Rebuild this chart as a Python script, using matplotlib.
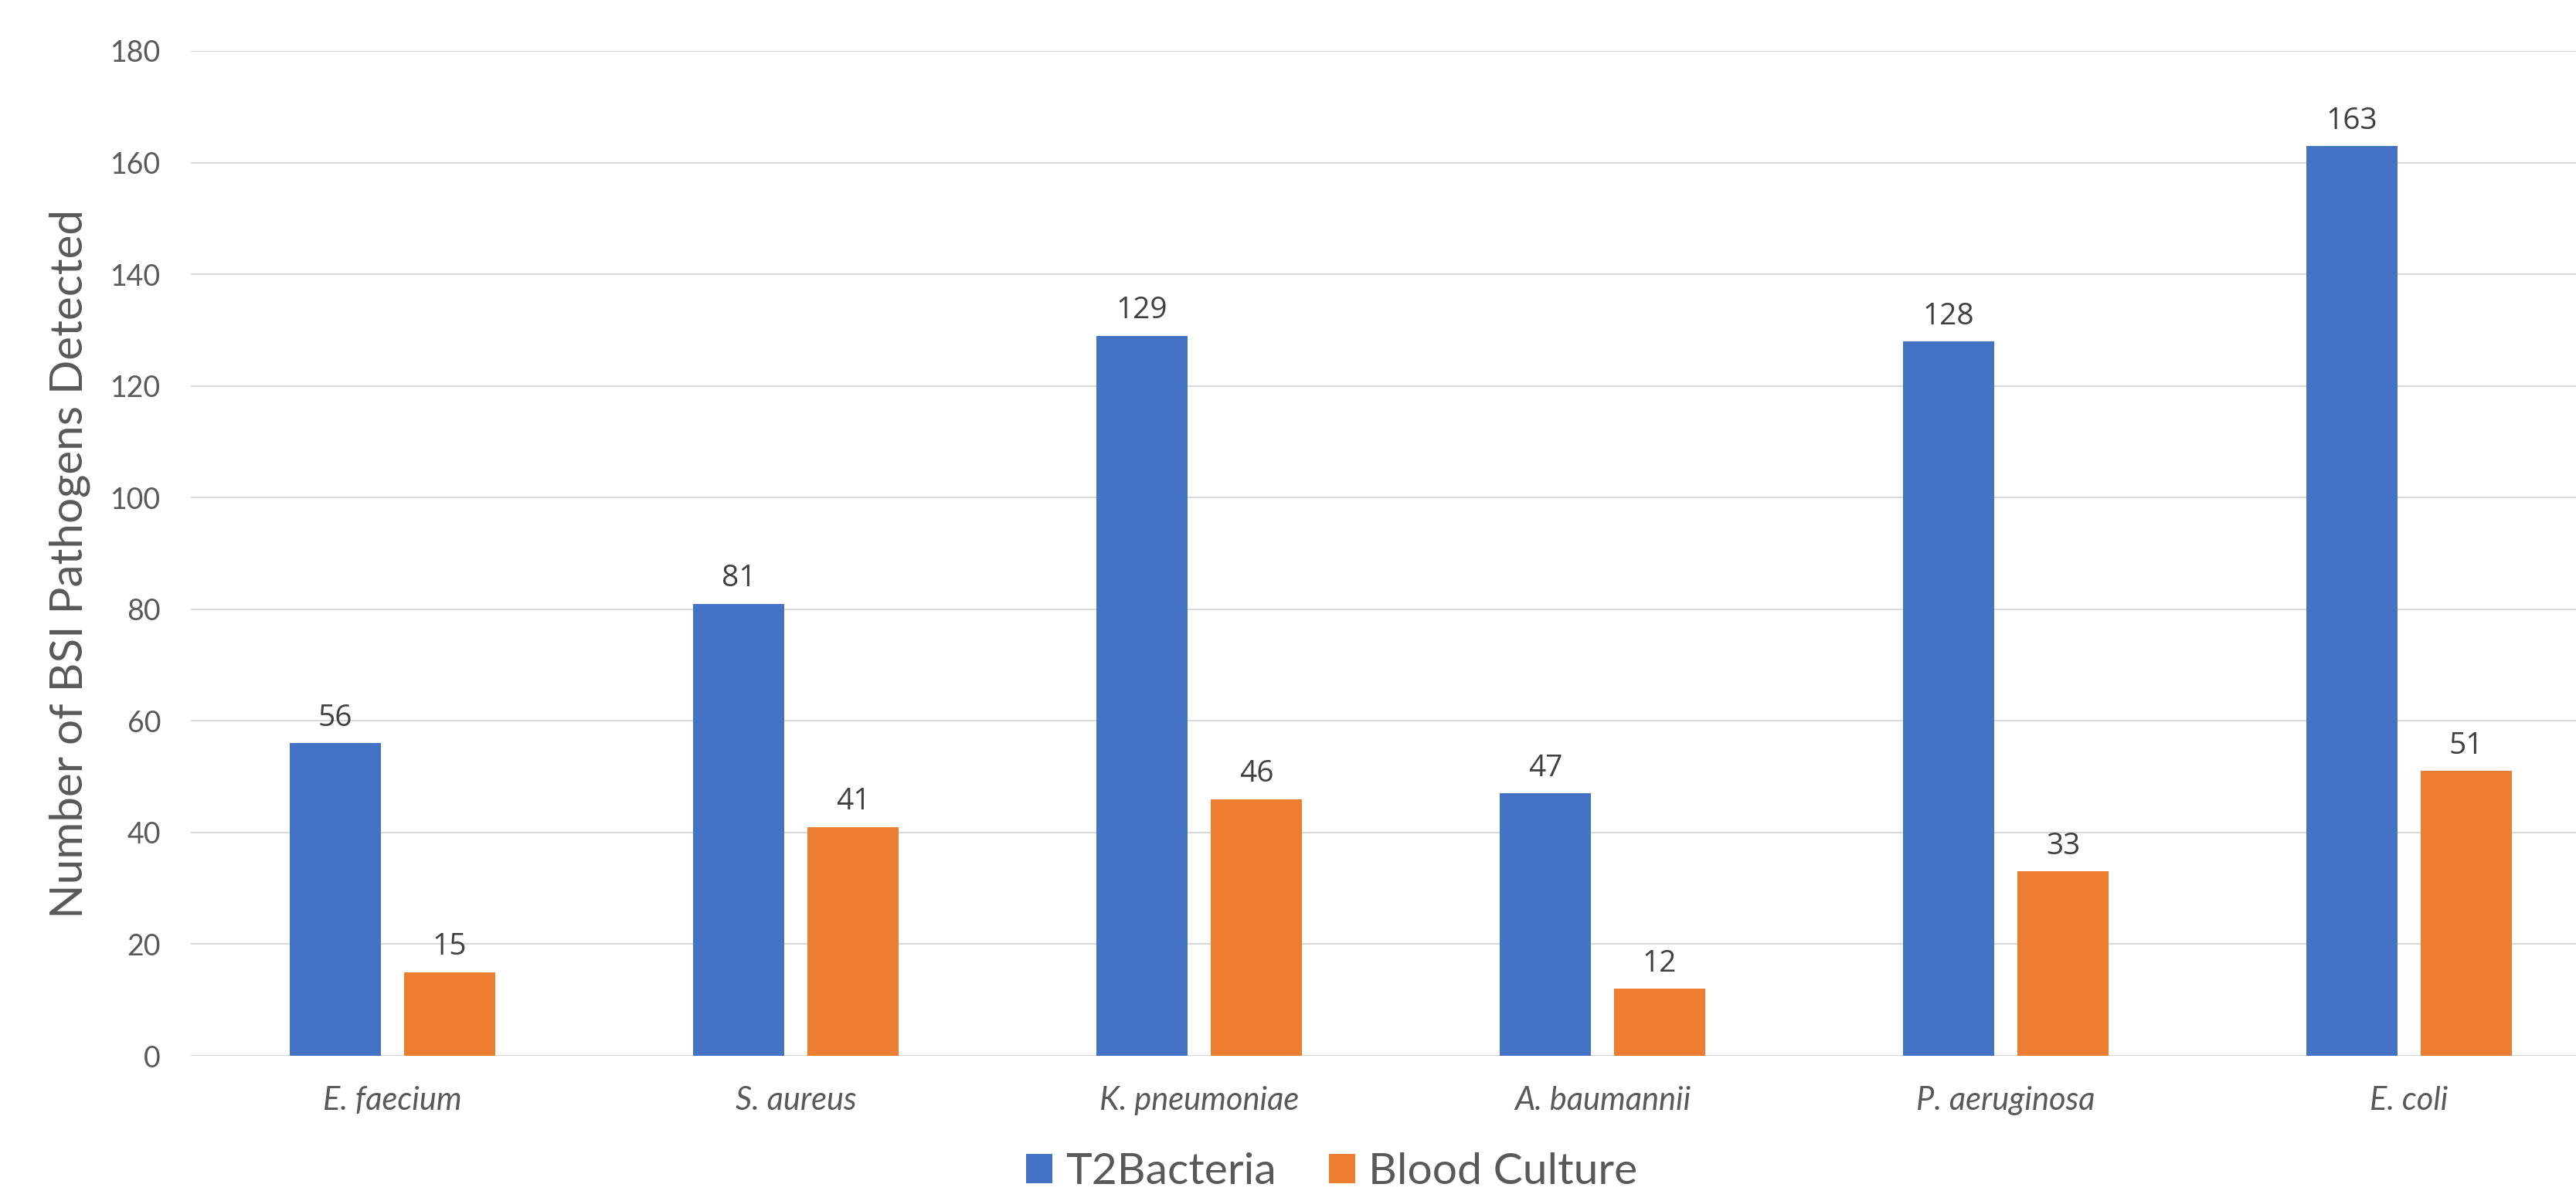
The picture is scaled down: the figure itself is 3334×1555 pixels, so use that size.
from matplotlib import pyplot as plt
import numpy as np

pathogens = ["E. faecium", "S. aureus", "K. pneumoniae", "A. baumannii", "P. aeruginosa", "E. coli"]
t2bacteria = [56, 81, 129, 47, 128, 163]
blood_culture = [15, 41, 46, 12, 33, 51]
y_ticks = [0, 20, 40, 60, 80, 100, 120, 140, 160, 180]

BLUE = "#4472C4"
ORANGE = "#ED7D31"
TEXT = "#595959"
LABEL = "#404040"

fig = plt.figure(figsize=(33.34, 15.55), dpi=100)
ax = fig.add_axes([247 / 3334, 188 / 1555, 1 - 247 / 3334, (1367 - 66) / 1555])

x = np.arange(len(pathogens))
width = 0.226
offset = 0.142

bars_t2 = ax.bar(x - offset, t2bacteria, width, color=BLUE, label="T2Bacteria", zorder=3)
bars_bc = ax.bar(x + offset, blood_culture, width, color=ORANGE, label="Blood Culture", zorder=3)

for rects in (bars_t2, bars_bc):
    for r in rects:
        ax.annotate(f"{int(r.get_height())}", (r.get_x() + r.get_width() / 2, r.get_height()),
                    xytext=(0, 16), textcoords="offset points", ha="center", va="baseline",
                    fontsize=28, color=LABEL, family="Open Sans")

ax.set_xlim(-0.5, -0.5 + (3334 - 247) / 522)
ax.set_ylim(0, 180)
ax.set_yticks(y_ticks)
ax.set_xticks(x, pathogens)

for lbl in ax.get_xticklabels():
    lbl.set_fontstyle("italic")
    lbl.set_family("Lato")
    lbl.set_fontsize(30)
    lbl.set_color(TEXT)
for lbl in ax.get_yticklabels():
    lbl.set_family("Lato")
    lbl.set_fontsize(27)
    lbl.set_color(TEXT)

ax.tick_params(axis="both", length=0)
ax.tick_params(axis="x", pad=28)
ax.tick_params(axis="y", pad=28)

ax.grid(axis="y", color="#D9D9D9", linewidth=1.5, zorder=0)
for s in ax.spines.values():
    s.set_visible(False)

ax.set_ylabel("Number of BSI Pathogens Detected", fontsize=42, color=TEXT, family="Lato")
ax.yaxis.set_label_coords(-0.042, 0.49)

fig.legend(loc="center", bbox_to_anchor=(0.517, 0.024), ncols=2, frameon=False,
           prop={"family": "Lato", "size": 41}, labelcolor=TEXT,
           handlelength=0.6, handleheight=0.65, handletextpad=0.3, columnspacing=1.2)

plt.savefig("out.png", dpi=100)
